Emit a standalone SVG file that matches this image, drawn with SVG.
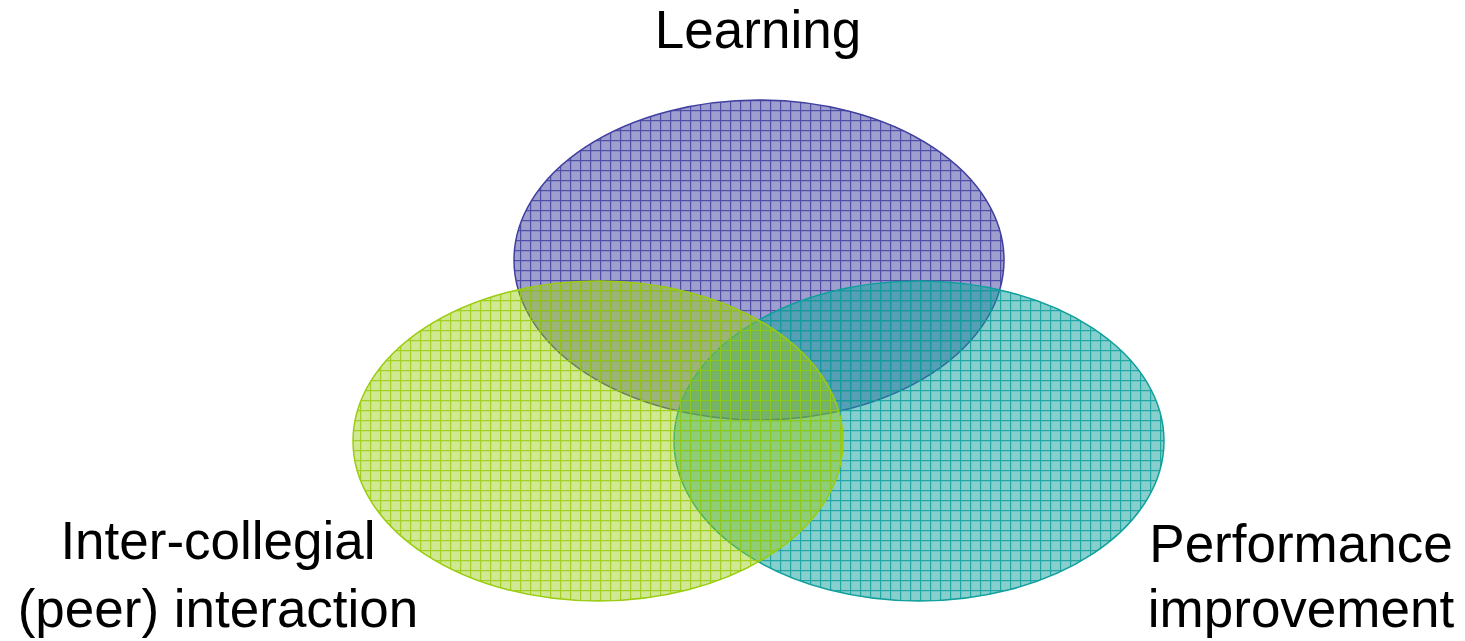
<svg xmlns="http://www.w3.org/2000/svg" width="1465" height="641" viewBox="0 0 1465 641">
  <style>
    .lbl { font-family: "Liberation Sans", Arial, sans-serif; font-size: 53px; fill: #000; text-anchor: middle; }
  </style>
  <defs>
    <pattern id="pPurple" patternUnits="userSpaceOnUse" width="10" height="10">
      <rect width="10" height="10" fill="#3f3f9f" fill-opacity="0.5"/>
      <path d="M0 0.5H10M0.5 0V10" stroke="#3f3f9f" stroke-width="1.4" stroke-opacity="0.85" fill="none"/>
    </pattern>
    <pattern id="pTeal" patternUnits="userSpaceOnUse" width="10" height="10">
      <rect width="10" height="10" fill="#10a09c" fill-opacity="0.5"/>
      <path d="M0 0.5H10M0.5 0V10" stroke="#10a09c" stroke-width="1.4" stroke-opacity="0.85" fill="none"/>
    </pattern>
    <pattern id="pGreen" patternUnits="userSpaceOnUse" width="10" height="10">
      <rect width="10" height="10" fill="#9acc10" fill-opacity="0.45"/>
      <path d="M0 0.5H10M0.5 0V10" stroke="#9acc10" stroke-width="1.4" stroke-opacity="0.85" fill="none"/>
    </pattern>
  </defs>
  <rect width="1465" height="641" fill="#fff"/>
  <g id="learning">
    <ellipse cx="759" cy="260" rx="245" ry="160" fill="url(#pPurple)" stroke="#3f3f9f" stroke-width="1.5"/>
    <text class="lbl" x="758" y="48">Learning</text>
  </g>
  <g id="performance">
    <ellipse cx="919" cy="441" rx="245" ry="160" fill="url(#pTeal)" stroke="#10a09c" stroke-width="1.5"/>
    <text class="lbl" x="1301" y="562">Performance</text>
    <text class="lbl" x="1301" y="627">improvement</text>
  </g>
  <g id="interaction">
    <ellipse cx="598" cy="441" rx="245" ry="160" fill="url(#pGreen)" stroke="#9acc10" stroke-width="1.5"/>
    <text class="lbl" x="218" y="559">Inter-collegial</text>
    <text class="lbl" x="218" y="627">(peer) interaction</text>
  </g>
  <g id="connectors"/>
</svg>
